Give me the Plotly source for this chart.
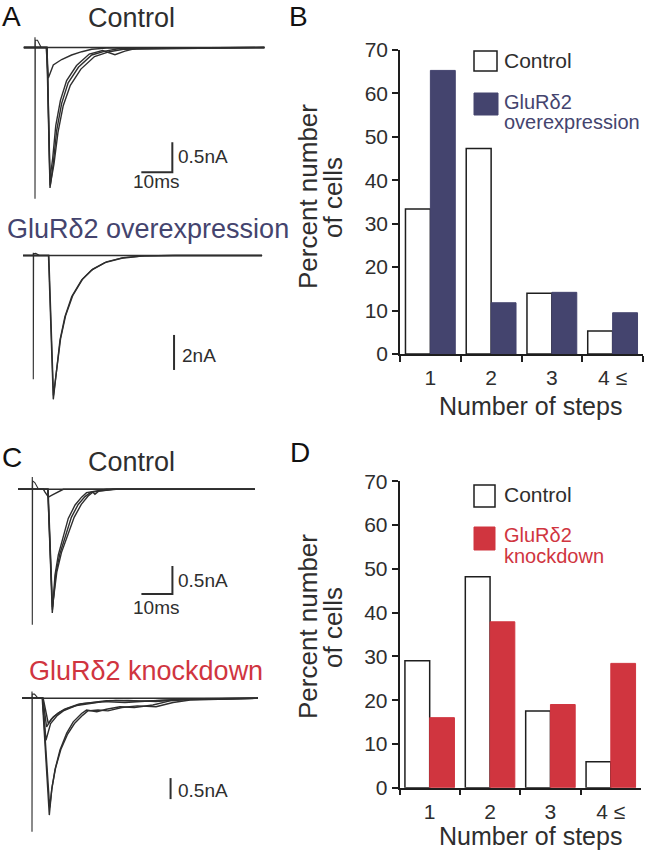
import plotly.graph_objects as go

W, H = 648, 852
FONT = "Arial, Liberation Sans, sans-serif"
NAVY = "#44446e"
RED = "#d0353f"
INK = "#2e2e2e"

# ---------------- data ----------------
steps = ["1", "2", "3", "4 ≤"]
b_control = [33.4, 47.3, 14.0, 5.3]
b_overexp = [65.3, 11.8, 14.2, 9.5]
d_control = [29.0, 48.2, 17.5, 5.9]
d_knockdown = [16.0, 37.9, 19.0, 28.4]

# EPSC traces (t in ms, I in nA)
a_ctrl_t = [
    [-3.6, 74.0],
    [-3.6, 3.6, 4.3, 5.9, 8.6, 11.8, 15.1, 18.3, 23.0, 74.0],
    [-3.6, 3.8, 4.84, 5.9, 7.0, 8.6, 10.7, 14.0, 18.3, 22.6, 26.8, 74.0],
    [-3.6, 3.9, 4.9, 6.1, 7.4, 9.1, 11.4, 14.8, 19.2, 24.0, 28.5, 74.0],
    [-3.6, 3.9, 4.8, 5.7, 6.7, 8.2, 10.2, 13.4, 17.5, 21.8, 25.8, 29.0, 33.0, 74.0],
]
a_ctrl_i = [
    [0, 0],
    [0, 0, -0.51, -0.29, -0.20, -0.125, -0.07, -0.03, -0.01, 0],
    [0, 0, -2.34, -1.93, -1.38, -0.93, -0.59, -0.33, -0.125, -0.06, -0.02, 0],
    [0, 0, -2.30, -1.95, -1.42, -0.97, -0.63, -0.36, -0.15, -0.07, -0.03, 0],
    [0, 0, -2.20, -1.85, -1.30, -0.88, -0.55, -0.30, -0.11, -0.05, -0.12, -0.06, -0.01, 0],
]
a_ctrl_art_t = [-0.05, 0, 0, 0.1, 0.8, 2.0]
a_ctrl_art_i = [0, 0.17, -2.52, 0.12, 0.12, 0]

a_oe_t = [
    [-3.3, 73.8],
    [-3.3, 4.9, 6.45, 7.55, 8.61, 10.2, 12.4, 15.6, 18.8, 23.1, 28.5, 35.0, 45.0, 73.8],
    [-3.3, 5.0, 6.5, 7.7, 8.8, 10.4, 12.7, 15.9, 19.2, 23.6, 29.0, 36.0, 46.0, 73.8],
]
a_oe_i = [
    [0, 0],
    [0, 0, -8.22, -6.35, -4.83, -3.50, -2.35, -1.40, -0.83, -0.41, -0.16, -0.03, 0, 0],
    [0, 0, -8.00, -6.20, -4.75, -3.45, -2.30, -1.35, -0.78, -0.36, -0.12, -0.02, 0, 0],
]
a_oe_art_t = [-0.05, 0, 0, 0.1, 0.8, 2.0]
a_oe_art_i = [0, 0.16, -7.07, 0.1, 0.12, 0]

c_ctrl_t = [
    [-4.6, 71.8],
    [-4.6, 3.6, 4.1, 5.2, 6.5, 8.4, 10.0, 71.8],
    [-4.6, 5.0, 6.45, 7.32, 8.39, 10.0, 11.6, 13.8, 15.9, 17.5, 20.2, 24.0, 71.8],
    [-4.6, 5.0, 6.5, 7.6, 8.9, 10.8, 12.6, 14.8, 17.0, 18.7, 21.5, 26.0, 71.8],
    [-4.6, 5.1, 6.5, 7.9, 9.4, 11.5, 13.5, 15.8, 18.0, 19.5, 20.2, 21.5, 27.0, 71.8],
]
c_ctrl_i = [
    [0, 0],
    [0, 0, -0.05, -0.14, -0.10, -0.04, 0, 0],
    [0, 0, -2.21, -1.53, -1.17, -0.82, -0.52, -0.28, -0.14, -0.06, -0.03, 0, 0],
    [0, 0, -2.15, -1.50, -1.15, -0.80, -0.50, -0.27, -0.13, -0.06, -0.03, 0, 0],
    [0, 0, -2.10, -1.48, -1.13, -0.79, -0.50, -0.27, -0.12, -0.05, -0.09, -0.03, 0, 0],
]
c_ctrl_art_t = [-0.05, 0, 0, 0.1, 0.8, 2.0]
c_ctrl_art_i = [0, 0.22, -2.42, 0.15, 0.12, 0]

c_kd_t = [
    [-3.2, 72.9],
    [-3.2, 3.3, 5.58, 6.35, 7.42, 9.03, 11.2, 13.3, 16.0, 17.6, 20.9, 24.0, 28.4, 33.0, 39.0, 44.5, 50.0, 72.9],
    [-3.2, 3.4, 5.7, 6.5, 7.6, 9.3, 11.5, 13.7, 16.4, 18.0, 21.3, 24.5, 29.0, 34.0, 40.0, 45.5, 51.0, 72.9],
    [-3.2, 3.4, 4.5, 6.0, 8.0, 10.1, 14.4, 18.0, 23.0, 30.0, 38.0, 48.0, 72.9],
    [-3.2, 3.5, 4.7, 6.2, 8.3, 10.5, 15.0, 19.0, 24.0, 31.0, 40.0, 50.0, 72.9],
    [-3.2, 3.6, 5.26, 6.9, 9.0, 11.5, 16.0, 21.0, 27.0, 35.0, 43.0, 55.0, 72.9],
]
c_kd_i = [
    [0, 0],
    [0, 0, -2.78, -2.18, -1.70, -1.23, -0.83, -0.56, -0.36, -0.28, -0.32, -0.26, -0.20, -0.22, -0.16, -0.06, -0.03, 0],
    [0, 0, -2.60, -2.10, -1.66, -1.22, -0.85, -0.60, -0.40, -0.30, -0.28, -0.30, -0.22, -0.18, -0.20, -0.10, -0.04, 0],
    [0, 0, -1.00, -0.60, -0.42, -0.30, -0.17, -0.13, -0.08, -0.10, -0.06, -0.02, 0],
    [0, 0, -0.68, -0.50, -0.36, -0.26, -0.14, -0.10, -0.06, -0.05, -0.08, -0.02, 0],
    [0, 0, -0.60, -0.44, -0.33, -0.24, -0.13, -0.09, -0.05, -0.07, -0.04, -0.01, 0],
]
c_kd_art_t = [-0.05, 0, 0, 0.1, 0.8, 2.0]
c_kd_art_i = [0, 0.16, -3.18, 0.1, 0.1, 0]

# scale bars (ms, nA)
scale_ms = 10
scale_a_ctrl = 0.5
scale_a_oe = 2
scale_c_ctrl = 0.5
scale_c_kd = 0.5

# ---------------- helpers ----------------
def fx(x):
    return x / W


def fy(y):
    return 1 - y / H


fig = go.Figure()

PX_PER_MS = 3.1
panels = {
    "1": (30, 205, 35.0, 47.5, 60.0),
    "2": (245, 405, 33.3, 255.5, 17.5),
    "3": (470, 632, 32.3, 489.3, 56.0),
    "4": (685, 842, 32.0, 698.3, 42.0),
}

layout_axes = {}
for k, (top, bot, x0, y0, kpx) in panels.items():
    xr = [(0 - x0) / PX_PER_MS, (290 - x0) / PX_PER_MS]
    yr = [-(bot - y0) / kpx, (y0 - top) / kpx]
    xname = "xaxis" if k == "1" else f"xaxis{k}"
    yname = "yaxis" if k == "1" else f"yaxis{k}"
    layout_axes[xname] = dict(domain=[0, fx(290)], range=xr, visible=False, anchor="y" if k == "1" else f"y{k}")
    layout_axes[yname] = dict(domain=[fy(bot), fy(top)], range=yr, visible=False, anchor="x" if k == "1" else f"x{k}")


def add_traces(ts, cs, art_t, art_i, k):
    xa = "x" if k == "1" else f"x{k}"
    ya = "y" if k == "1" else f"y{k}"
    fig.add_trace(go.Scatter(x=art_t, y=art_i, mode="lines", line=dict(color=INK, width=1.1),
                             xaxis=xa, yaxis=ya, showlegend=False, hoverinfo="skip"))
    for t, c in zip(ts, cs):
        fig.add_trace(go.Scatter(x=t, y=c, mode="lines", line=dict(color=INK, width=1.4),
                                 xaxis=xa, yaxis=ya, showlegend=False, hoverinfo="skip"))


add_traces(a_ctrl_t, a_ctrl_i, a_ctrl_art_t, a_ctrl_art_i, "1")
add_traces(a_oe_t, a_oe_i, a_oe_art_t, a_oe_art_i, "2")
add_traces(c_ctrl_t, c_ctrl_i, c_ctrl_art_t, c_ctrl_art_i, "3")
add_traces(c_kd_t, c_kd_i, c_kd_art_t, c_kd_art_i, "4")


def scalebar(k, corner_t, corner_i, vert, horiz=None):
    xa = "x" if k == "1" else f"x{k}"
    ya = "y" if k == "1" else f"y{k}"
    if horiz:
        xs = [corner_t, corner_t, corner_t - horiz]
        ys = [corner_i + vert, corner_i, corner_i]
    else:
        xs = [corner_t, corner_t]
        ys = [corner_i + vert, corner_i]
    fig.add_trace(go.Scatter(x=xs, y=ys, mode="lines", line=dict(color=INK, width=2),
                             xaxis=xa, yaxis=ya, showlegend=False, hoverinfo="skip"))


scalebar("1", 44.3, -2.08, scale_a_ctrl, scale_ms)
scalebar("2", 45.4, -6.54, scale_a_oe)
scalebar("3", 45.2, -1.87, scale_c_ctrl, scale_ms)
scalebar("4", 44.7, -2.40, scale_c_kd)

# ---------------- bar charts ----------------
bar_line = dict(color="#1e1e1e", width=1.5)
fig.add_trace(go.Bar(x=steps, y=b_control, marker=dict(color="white", line=bar_line),
                     xaxis="x5", yaxis="y5", showlegend=False, hoverinfo="skip"))
fig.add_trace(go.Bar(x=steps, y=b_overexp, marker=dict(color=NAVY, line=dict(color=NAVY, width=1)),
                     xaxis="x5", yaxis="y5", showlegend=False, hoverinfo="skip"))
fig.add_trace(go.Bar(x=steps, y=d_control, marker=dict(color="white", line=bar_line),
                     xaxis="x6", yaxis="y6", showlegend=False, hoverinfo="skip"))
fig.add_trace(go.Bar(x=steps, y=d_knockdown, marker=dict(color=RED, line=dict(color=RED, width=1)),
                     xaxis="x6", yaxis="y6", showlegend=False, hoverinfo="skip"))

tickfont = dict(family=FONT, size=21, color=INK)
xcommon = dict(type="category", categoryorder="array", categoryarray=steps, range=[-0.5, 3.5],
               tickson="boundaries", ticks="outside", ticklen=6, tickwidth=1.5, tickcolor="#1e1e1e",
               showline=True, linecolor="#1e1e1e", linewidth=1.5, showgrid=False, zeroline=False,
               tickfont=tickfont, ticklabelstandoff=4)
ycommon = dict(range=[0, 70], dtick=10, ticks="outside", ticklen=6, tickwidth=1.5, tickcolor="#1e1e1e",
               showline=True, linecolor="#1e1e1e", linewidth=1.5, showgrid=False, zeroline=False,
               tickfont=tickfont)
layout_axes["xaxis5"] = dict(domain=[fx(400), fx(643)], anchor="y5", **xcommon)
layout_axes["yaxis5"] = dict(domain=[fy(354), fy(50)], anchor="x5", **ycommon)
layout_axes["xaxis6"] = dict(domain=[fx(399.5), fx(641)], anchor="y6", **xcommon)
layout_axes["yaxis6"] = dict(domain=[fy(787.7), fy(481.3)], anchor="x6", **ycommon)

# ---------------- text ----------------
ann = []


def text(s, x, y, size, color=INK, xanchor="center", angle=0):
    ann.append(dict(text=s, x=fx(x), y=fy(y), xref="paper", yref="paper", showarrow=False,
                    xanchor=xanchor, yanchor="middle", textangle=angle,
                    font=dict(family=FONT, size=size, color=color)))


text("A", 0, 16, 28, "#111", "left")
text("B", 287, 16, 28, "#111", "left")
text("C", 0, 457, 28, "#111", "left")
text("D", 288, 453, 28, "#111", "left")

text("Control", 131, 18, 27)
text("GluRδ2 overexpression", 148, 229, 27, NAVY)
text("Control", 131, 462, 27)
text("GluRδ2 knockdown", 145.5, 671, 27, RED)

text("0.5nA", 176, 157, 19, INK, "left")
text("10ms", 155.5, 182, 19)
text("2nA", 180, 355, 19, INK, "left")
text("0.5nA", 176, 580, 19, INK, "left")
text("10ms", 155.5, 607, 19)
text("0.5nA", 176, 790, 19, INK, "left")

text("Percent number", 308, 197, 26, INK, "center", -90)
text("of cells", 333, 197, 26, INK, "center", -90)
text("Number of steps", 530, 406, 25)
text("Percent number", 308, 627, 26, INK, "center", -90)
text("of cells", 333, 627, 26, INK, "center", -90)
text("Number of steps", 530, 836, 25)

shapes = []


def box(x0, y0, x1, y1, fill, line):
    shapes.append(dict(type="rect", xref="paper", yref="paper", x0=fx(x0), x1=fx(x1), y0=fy(y1), y1=fy(y0),
                       fillcolor=fill, line=line))


box(474, 51, 497, 71, "white", dict(color="#1e1e1e", width=1.5))
box(474, 93, 498, 115, NAVY, dict(color=NAVY, width=1))
text("Control", 502, 61, 21, INK, "left")
text("GluRδ2", 502, 102, 20, NAVY, "left")
text("overexpression", 502, 122, 20, NAVY, "left")

box(474, 485, 495, 507, "white", dict(color="#1e1e1e", width=1.5))
box(474, 527, 495, 550, RED, dict(color=RED, width=1))
text("Control", 502, 494, 21, INK, "left")
text("GluRδ2", 502, 535, 20, RED, "left")
text("knockdown", 502, 556, 20, RED, "left")

fig.update_layout(
    width=W, height=H, margin=dict(l=0, r=0, t=0, b=0, autoexpand=False),
    paper_bgcolor="white", plot_bgcolor="rgba(0,0,0,0)",
    barmode="group", bargap=0.18, bargroupgap=0,
    annotations=ann, shapes=shapes, font=dict(family=FONT),
    hovermode=False,
    **layout_axes,
)

fig.write_html("out.html", config={"displayModeBar": False},
               post_script="document.body.style.margin='0';")
